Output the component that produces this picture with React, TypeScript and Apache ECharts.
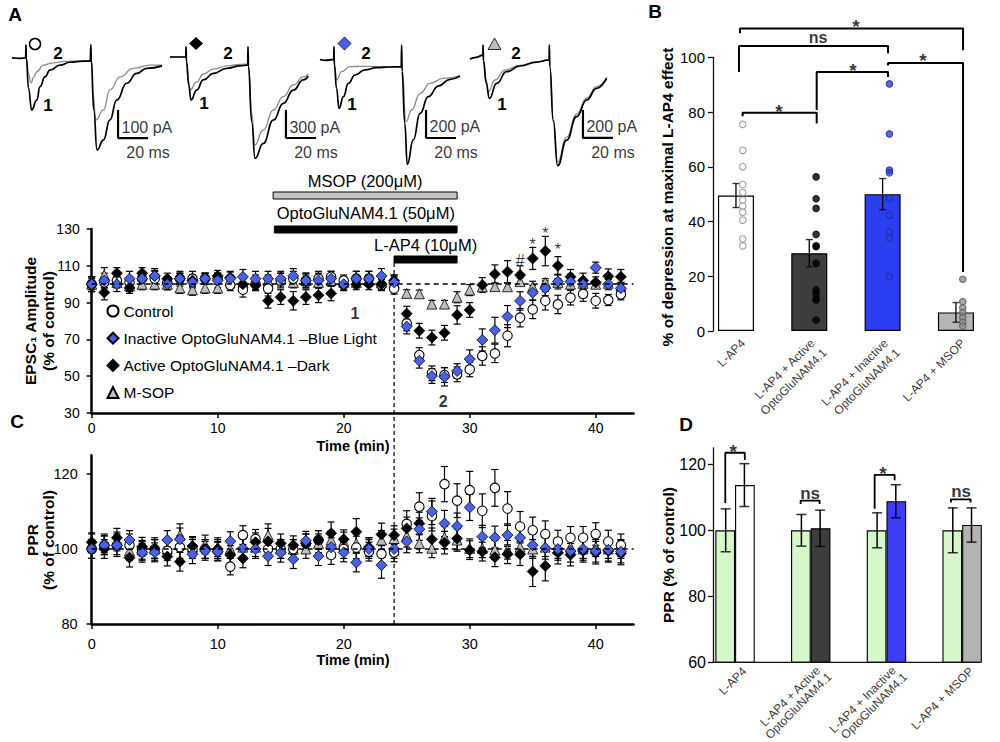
import React, { useEffect, useRef } from "react";
import * as echarts from "echarts";

const FONT = "'Liberation Sans', Arial, Helvetica, sans-serif";
const fnt = (size: number, bold = false) => `${bold ? "bold " : ""}${size}px ${FONT}`;

// ================= DATA =================
// ---- Panel A traces: [time (ms), current (pA)] ----
const TRACE1_BLACK = [[0,8],[5,6],[9.1,8],[9.3,54],[9.6,5],[11,-100],[13.1,-179],[16.5,-143],[18.7,-95],[22,-60],[25.3,-36],[32,-18],[38.7,-8],[47.3,-4],[52.2,-4],[52.5,54],[52.9,0],[54.5,-180],[56.7,-321],[60.9,-286],[65.3,-214],[69.8,-143],[76.5,-83],[83.1,-48],[89.8,-30],[100,-21]];
const TRACE1_GRAY = [[0,8],[5,6],[9.1,8],[9.3,54],[9.6,5],[11,-50],[12.7,-82],[14.5,-60],[16.5,-42],[20.9,-18],[27.5,-10],[35,-5],[45,-4],[52.2,-4],[52.5,54],[52.9,0],[54,-120],[56,-214],[60.9,-179],[65.3,-107],[72,-60],[80.9,-30],[92,-18],[100,-18]];
const TRACE2_BLACK = [[0,0],[10.5,0],[10.7,110],[11,-50],[12.5,-300],[14,-461],[17.8,-354],[22.2,-246],[28.9,-175],[37.8,-121],[46.7,-96],[51.8,-86],[52,110],[52.3,-100],[54.5,-700],[56.7,-1086],[62.2,-925],[68.9,-675],[75.6,-496],[82.2,-354],[88.9,-246],[92.2,-204]];
const TRACE2_GRAY = [[0,0],[10.5,0],[10.7,110],[11,-50],[12.3,-250],[13.3,-354],[17.8,-268],[22.2,-182],[28.9,-129],[37.8,-96],[46.7,-80],[51.8,-75],[52,110],[52.3,-100],[54.5,-600],[56.5,-943],[62.2,-782],[68.9,-568],[75.6,-425],[82.2,-300],[88.9,-214],[92.2,-182]];
const TRACE3_BLACK = [[0,4],[4,-3],[9.1,4],[9.3,95],[9.6,-40],[11,-200],[12.7,-345],[15.6,-262],[18.9,-167],[23.3,-107],[30,-71],[37.8,-55],[46,-50],[54.2,-48],[54.4,107],[54.7,-80],[56.5,-450],[58.2,-745],[62.2,-571],[66.7,-381],[72.2,-262],[78.9,-186],[86.7,-138],[93.3,-114]];
const TRACE3_GRAY = [[0,4],[4,-3],[9.1,4],[9.3,95],[9.6,-30],[11.1,-143],[14.4,-83],[20,-48],[26.7,-45],[40,-47],[54.2,-48],[54.4,107],[54.7,-60],[57.3,-440],[61.1,-357],[66.7,-238],[73.3,-167],[82.2,-131],[93.3,-114]];
const TRACE4_BLACK = [[0,-7],[4,5],[8.6,21],[8.7,93],[9,-20],[10.8,-180],[12.9,-288],[17.8,-181],[24.4,-98],[33.3,-57],[44.4,-29],[52.8,-14],[52.9,93],[53.2,-60],[55.5,-450],[58.4,-769],[64.4,-586],[71.1,-419],[77.8,-300],[84.4,-217],[91.1,-145]];
const TRACE4_GRAY = [[0,-7],[4,5],[8.6,21],[8.7,93],[9,-20],[10.6,-150],[12.2,-241],[16.7,-157],[23.3,-86],[33.3,-52],[44.4,-27],[52.8,-14],[52.9,93],[53.2,-60],[55.5,-430],[58.4,-743],[64.4,-565],[71.1,-400],[77.8,-286],[84.4,-205],[91.1,-138]];
const TRACES_BLACK = [TRACE1_BLACK, TRACE2_BLACK, TRACE3_BLACK, TRACE4_BLACK];
const TRACES_GRAY = [TRACE1_GRAY, TRACE2_GRAY, TRACE3_GRAY, TRACE4_GRAY];
const SCALEBAR_T = [70.7, 77.3, 70.7, 75.3];
const SCALEBAR_TOP = [-179, -568, -357, -371];
const SCALEBAR_PA = [100, 300, 200, 200];
const SCALEBAR_MS = 20;
const SCALEBAR_LABELS = ["100 pA", "300 pA", "200 pA", "200 pA"];

// ---- Panels A & C time course ----
const MINUTES = [0,1,2,3,4,5,6,7,8,9,10,11,12,13,14,15,16,17,18,19,20,21,22,23,24,25,26,27,28,29,30,31,32,33,34,35,36,37,38,39,40,41,42];
const CTRL_EPSC = [100,101,102,101,103,103,101,103,103,103,103,99.5,97,100,97.6,102,103,102,103,104,102,103,103,99.5,97.6,78.7,61.5,51.6,50.6,51,53.7,61,62.4,72,81.8,86.3,91,89,92.7,94.7,91,91.4,94.5];
const CTRL_EPSC_ERR = [4,3,3,3,3,4,3,3,4,3,3,3,4,3,4,4,4,4,4,3,3,4,4,3,3,4,4,4,4,4,4,5,5,6,5,5,5,5,4,4,4,3,3];
const BLUE_EPSC = [100,102,100,103,103,104.5,100,103,101,103,102,103,104,103,103,103,104.5,102,102,103,100,103,103,104.5,101,77,58.4,50.1,49.7,52.8,59.3,69.7,75,82.4,90.9,95.4,97.8,101.4,101.4,100,109,100,97.8];
const BLUE_EPSC_ERR = [4,4,4,4,4,4,3,4,3,3,4,4,4,4,4,4,4,4,4,4,3,4,4,4,4,4,4,4,5,4,5,6,7,6,5,4,4,4,4,3,3,3,3];
const BLACK_EPSC = [100,95.5,106,98,106,104.5,103,103,102,103,104.5,103.6,100,99.5,91,93,91,93,94,95,99.5,100,100,100,102,84,74.7,71,73.6,83.3,86,99.6,105.5,106.8,105,114,118,110,104,102,101,104.3,104];
const BLACK_EPSC_ERR = [4,4,3,3,3,3,3,3,3,3,3,3,3,3,4,4,5,4,4,4,3,3,3,3,3,4,4,4,4,5,4,4,5,6,5,6,8,5,4,4,3,4,4];
const TRI_EPSC = [100,105,101,99,100,100,100,98,97,98,98,102,101,102,102,103,101,102,101,102,101,101,102,101,101,95,94.8,89.2,89.2,92.9,96.8,98.6,98.7,98.6,101.4,98.6,101,101,100,100.5,100,100.5,99];
const TRI_EPSC_ERR = [3,4,3,3,3,3,3,3,3,3,3,3,3,3,3,3,3,3,3,3,3,3,3,3,3,2,2,2,2,3,3,2,2,2,2,3,2,2,2,2,2,2,2];

const CTRL_PPR = [100,101,101,101,99.5,100,99.5,100.5,100,100,99.5,95.3,103.7,102.7,100,100,100,101.5,102.4,98.4,100,100.4,99.3,98.7,99.1,106.7,111.3,108.8,117.3,112.9,115.7,110.2,116.3,110.8,106,105,104,102,103,103,104,102,101];
const CTRL_PPR_ERR = [2.5,2.5,3,3,2.5,3,2.5,3,2.5,2.5,2.5,2.2,2.5,2.5,2.5,2.5,2.5,2.5,2.5,2.5,2.5,3,2.5,2.5,2.5,3.5,3.7,4,4.7,4.5,5,4.5,4.9,4.5,4,3.5,3.5,3,3,3,3,3,3];
const BLUE_PPR = [100,101,101,102.4,99,99.1,102.4,102.6,98.6,99.5,99.3,102.1,100.2,100,98.1,99,97.3,102.2,98.1,100.5,99.1,96.4,100,95.7,100,102,105.3,110,106.8,106.1,111.1,103.3,103.1,103.7,103,101,100.3,100,99.5,100,99.5,99.8,99.3];
const BLUE_PPR_ERR = [2.5,2.5,2.5,2.5,2.5,2.5,2.5,3,2.5,2.5,2.5,2.5,2.5,2.5,2.5,2.5,2.5,2.5,2.5,2.5,2.5,2.5,2.5,3.5,2.5,3,3,3.5,3.5,3.5,3.5,3,3,3,3,3,3,3,3,3,3,3,3];
const BLACK_PPR = [101.8,100,103,97.7,100.6,100,98,96.6,100.8,100,100,98.4,97.5,101.8,102,101.5,101,101.5,102.4,104.2,102.6,104.6,100.5,103.9,103.7,105.5,106.8,102.6,101.7,102.8,99.7,99.3,97.8,98.6,98.6,94,95.5,99,98.5,99.5,99,99.5,98.8];
const BLACK_PPR_ERR = [2.5,2.5,2.5,2.5,2.5,2.5,2.5,2.5,2.5,2.5,2.5,2.5,2.5,2.5,3.5,2.5,2.5,2.5,2.5,3,2.5,3.5,2.5,3,2.5,3,3,3,3,3,2.5,2.5,2.5,2.5,3,4,4,3,3,3,3,3,3];
const TRI_PPR = [101.5,101.5,102,99.5,99.8,100,100,103.7,100.5,101.2,100.5,100,100.5,100.5,103.7,100,100,100,101.5,102.4,102,101.5,100.5,102.4,102.8,103.5,101.5,100.2,103.1,102.4,100.2,100.2,99.8,99.8,100.5,100,100.5,100,100.5,100,100.5,100,100];
const TRI_PPR_ERR = [2.5,2.5,2.5,2.5,2.5,2.5,2.5,3,2.5,2.5,2.5,2.5,2.5,2.5,3,2.5,2.5,2.5,2.5,2.5,2.5,2.5,2.5,2.5,2.5,3,2.5,2.5,3,3,2.5,2.5,2.5,2.5,2.5,2.5,2.5,2.5,2.5,2.5,2.5,2.5,2.5];

const DRUG_LABELS = ["MSOP (200μM)", "OptoGluNAM4.1 (50μM)", "L-AP4 (10μM)"];
const DRUG_START = [14.4, 14.5, 24];
const DRUG_END = [29, 29, 29];
const LAP4_ONSET = 24;
const A_MARKS = [[34, 115.3, "#"], [35, 124, "*"], [36, 129.5, "*"], [37, 121.3, "*"]];
const A_TIMEPOINTS = [[20.9, 84.3, "1"], [27.9, 36, "2"]];

// ---- Panel B ----
const B_CATS = ["L-AP4", "L-AP4 + Active\nOptoGluNAM4.1", "L-AP4 + Inactive\nOptoGluNAM4.1", "L-AP4 + MSOP"];
const B_MEANS = [49.5, 28.4, 50.0, 6.8];
const B_ERR = [4.4, 5.0, 5.7, 3.6];
const B_LAP4 = [75.5, 66, 60, 53.5, 50.6, 47.8, 45.6, 43.4, 40.5, 33.6, 31.1];
const B_ACTIVE = [56.3, 48.3, 44.8, 35.3, 31.1, 30.8, 24.7, 15, 13.8, 11.9, 11.3, 4];
const B_INACTIVE = [90.3, 72, 58.8, 57.8, 48.4, 42.3, 36.2, 34, 19.8];
const B_MSOP = [18.9, 10.7, 8.5, 6.7, 4.9, 3.2, 1.8];
const B_BRACKETS = [
  [[0.091, 78.5], [0.091, 79.7], [1.101, 79.7], [1.101, 75.8]],
  [[1.101, 80.7], [1.101, 94.6], [2.074, 94.6], [2.074, 92.8]],
  [[0.041, 94.6], [0.041, 104.1], [2.074, 104.1], [2.074, 101.5]],
  [[2.074, 97.0], [2.074, 97.9], [3.097, 97.9], [3.097, 21.6]],
  [[0.055, 108.8], [0.055, 110.5], [3.097, 110.5], [3.097, 102.6]],
];
const B_STARS = [[0.587, 82.1, "*"], [1.596, 97.1, "*"], [2.551, 100.7, "*"], [1.637, 112.9, "*"]];
const B_NS = [[1.119, 107.3, "ns"]];

// ---- Panel D ----
const D_CATS = B_CATS;
const D_BASE = [100, 100, 100, 100];
const D_BASE_ERR = [6.5, 4.8, 5.3, 6.8];
const D_TREAT = [113.7, 100.6, 108.8, 101.6];
const D_TREAT_ERR = [6.5, 5.5, 5.0, 5.2];
const D_BRACKETS = [
  [[-0.129, 108.3], [-0.129, 123.5], [0.129, 123.5], [0.129, 121.3]],
  [[0.866, 108], [0.866, 109], [1.117, 109], [1.117, 108]],
  [[1.844, 106.5], [1.844, 116.8], [2.108, 116.8], [2.108, 115.2]],
  [[2.852, 108.4], [2.852, 109.4], [3.112, 109.4], [3.112, 108.4]],
];
const D_STARS = [[-0.025, 125.3, "*"], [1.954, 118.8, "*"]];
const D_NS = [[0.991, 111.3, "ns"], [2.986, 111.7, "ns"]];

// ================= LAYOUT / STYLE =================
const TRACE_LAYOUT = [
  { left: 12, base: 60, k: 0.28 },
  { left: 170, base: 57, k: 28 / 300 },
  { left: 320, base: 60, k: 0.14 },
  { left: 470, base: 58, k: 0.14 },
];
const TC = { left: 91.7, width: 541.8, max: 43 };
const DRUG_ROWS = [
  { barTop: 192, barH: 7, textY: 181, fill: "#c4c4c4" },
  { barTop: 226, barH: 7, textY: 213, fill: "#000" },
  { barTop: 256, barH: 7, textY: 245, fill: "#000" },
];
const BLUE_MARK = "#4660f0";
const B_COLORS = ["#ffffff", "#3d3d3d", "#2b3ff2", "#b5b5b5"];
const D_GREEN = "#d6f8c8";
const D_COLORS = ["#ffffff", "#3d3d3d", "#3d3df5", "#b3b3b3"];
// rotated category-label anchors: dx = [single, line1, line2] (category units), y = [single, line1, line2] (value units)
const B_LBL = { dx: [0.097, 0.045, 0.21], y: [-3.7, -3.7, -7.2] };
const D_LBL = { dx: [0.124, 0.097, 0.248], y: [57.9, 58.1, 56.2] };
const CAT_FONT = 12;

function errorRender(cap: number, lw: number) {
  return (params: any, api: any) => {
    const x = api.value(0);
    const lo = api.coord([x, api.value(1)]);
    const hi = api.coord([x, api.value(2)]);
    const st = { stroke: "#000", lineWidth: lw };
    return {
      type: "group",
      children: [
        { type: "line", shape: { x1: lo[0], y1: lo[1], x2: hi[0], y2: hi[1] }, style: st },
        { type: "line", shape: { x1: lo[0] - cap, y1: lo[1], x2: lo[0] + cap, y2: lo[1] }, style: st },
        { type: "line", shape: { x1: hi[0] - cap, y1: hi[1], x2: hi[0] + cap, y2: hi[1] }, style: st },
      ],
    };
  };
}

function errSeries(xi: number, yi: number, xs: number[], ys: number[], es: number[], cap: number, lw: number) {
  return {
    type: "custom", xAxisIndex: xi, yAxisIndex: yi, silent: true, z: 2, clip: false,
    data: xs.map((x, i) => [x, ys[i] - es[i], ys[i] + es[i]]),
    encode: { x: 0, y: [1, 2] },
    renderItem: errorRender(cap, lw),
  };
}

function errLines(xi: number, yi: number, xs: number[], ys: number[], es: number[], capW: number, lw: number) {
  const out: any[] = xs.map((x, i) => ({
    type: "line", xAxisIndex: xi, yAxisIndex: yi, data: [[x, ys[i] - es[i]], [x, ys[i] + es[i]]],
    symbol: "none", silent: true, clip: false, z: 11, lineStyle: { color: "#000", width: lw },
  }));
  out.push({
    type: "scatter", xAxisIndex: xi, yAxisIndex: yi, symbol: "rect", symbolSize: [capW, lw], silent: true, z: 11, clip: false,
    data: xs.flatMap((x, i) => [[x, ys[i] - es[i]], [x, ys[i] + es[i]]]),
    itemStyle: { color: "#000" },
  });
  return out;
}

function textSeries(xi: number, yi: number, data: any[], fontSize: number, bold: boolean, offsetY = 0) {
  return {
    type: "scatter", xAxisIndex: xi, yAxisIndex: yi, symbol: "circle", symbolSize: 1, silent: true, z: 13, clip: false,
    itemStyle: { color: "rgba(0,0,0,0)" },
    data,
    label: {
      show: true, position: "inside", formatter: (p: any) => p.value[2], color: "#000",
      fontSize, fontWeight: bold ? "bold" : "normal", fontFamily: FONT, offset: [0, offsetY],
    },
  };
}

// rotated category labels, one text per line
function catLabelSeries(xi: number, yi: number, cats: string[], L: { dx: number[]; y: number[] }, fontSize: number) {
  const data: any[] = [];
  cats.forEach((c, i) => {
    const lines = c.split("\n");
    if (lines.length === 1) data.push([i + L.dx[0], L.y[0], lines[0]]);
    else {
      data.push([i + L.dx[1], L.y[1], lines[0]]);
      data.push([i + L.dx[2], L.y[2], lines[1]]);
    }
  });
  return {
    type: "scatter", xAxisIndex: xi, yAxisIndex: yi, symbol: "circle", symbolSize: 1, silent: true, z: 13, clip: false,
    itemStyle: { color: "rgba(0,0,0,0)" },
    data,
    label: {
      show: true, position: "inside", rotate: 45, align: "right", verticalAlign: "middle",
      formatter: (p: any) => p.value[2], color: "#000", fontSize, fontFamily: FONT,
    },
  };
}

function bracketSeries(xi: number, yi: number, pts: number[][], lw: number) {
  return {
    type: "line", xAxisIndex: xi, yAxisIndex: yi, data: pts, symbol: "none", silent: true, clip: false, z: 12,
    lineStyle: { color: "#000", width: lw },
  };
}

function buildOption() {
  const grid: any[] = [];
  const xAxis: any[] = [];
  const yAxis: any[] = [];
  const series: any[] = [];
  const addG = (g: any) => (grid.push(g), grid.length - 1);
  const addX = (a: any) => (xAxis.push(a), xAxis.length - 1);
  const addY = (a: any) => (yAxis.push(a), yAxis.length - 1);

  // ---------- traces ----------
  TRACE_LAYOUT.forEach((L, i) => {
    const g = addG({ left: L.left, top: 30, width: 150, height: 150 });
    const xi = addX({ type: "value", gridIndex: g, min: 0, max: 100, show: false });
    const yi = addY({ type: "value", gridIndex: g, min: -(180 - L.base) / L.k, max: (L.base - 30) / L.k, show: false });
    series.push({
      type: "line", xAxisIndex: xi, yAxisIndex: yi, data: TRACES_GRAY[i], symbol: "none", smooth: 0.5,
      smoothMonotone: "x", lineStyle: { color: "#8a8a8a", width: 1.3 }, silent: true, z: 2,
    });
    series.push({
      type: "line", xAxisIndex: xi, yAxisIndex: yi, data: TRACES_BLACK[i], symbol: "none", smooth: 0.5,
      smoothMonotone: "x", lineStyle: { color: "#000", width: 1.7 }, silent: true, z: 3,
    });
    const t = SCALEBAR_T[i], top = SCALEBAR_TOP[i], bot = SCALEBAR_TOP[i] - SCALEBAR_PA[i];
    series.push({
      type: "line", xAxisIndex: xi, yAxisIndex: yi, data: [[t, top], [t, bot], [t + SCALEBAR_MS, bot]],
      symbol: "none", silent: true, lineStyle: { color: "#000", width: 2.2 }, z: 3,
    });
    series.push({
      type: "scatter", xAxisIndex: xi, yAxisIndex: yi, symbolSize: 1, silent: true, itemStyle: { color: "rgba(0,0,0,0)" },
      data: [[t, (top + bot) / 2, SCALEBAR_LABELS[i]]],
      label: { show: true, position: "right", distance: 3, offset: [0, 3], formatter: (p: any) => p.value[2], fontSize: 16, color: "#000", fontFamily: FONT },
    });
    series.push({
      type: "scatter", xAxisIndex: xi, yAxisIndex: yi, symbolSize: 1, silent: true, itemStyle: { color: "rgba(0,0,0,0)" },
      data: [[t + SCALEBAR_MS, bot, SCALEBAR_MS + " ms"]],
      label: { show: true, position: "bottom", distance: 6, formatter: (p: any) => p.value[2], fontSize: 16, color: "#000", fontFamily: FONT },
    });
  });

  const groups = [
    { name: "M-SOP", epsc: TRI_EPSC, epscErr: TRI_EPSC_ERR, ppr: TRI_PPR, pprErr: TRI_PPR_ERR, symbol: "triangle", size: 10, fill: "#bdbdbd", bw: 0.8 },
    { name: "Control", epsc: CTRL_EPSC, epscErr: CTRL_EPSC_ERR, ppr: CTRL_PPR, pprErr: CTRL_PPR_ERR, symbol: "circle", size: 9.5, fill: "#ffffff", bw: 1.1 },
    { name: "Active OptoGluNAM4.1 –Dark", epsc: BLACK_EPSC, epscErr: BLACK_EPSC_ERR, ppr: BLACK_PPR, pprErr: BLACK_PPR_ERR, symbol: "diamond", size: 11, fill: "#000000", bw: 0.8 },
    { name: "Inactive OptoGluNAM4.1 –Blue Light", epsc: BLUE_EPSC, epscErr: BLUE_EPSC_ERR, ppr: BLUE_PPR, pprErr: BLUE_PPR_ERR, symbol: "diamond", size: 11, fill: BLUE_MARK, bw: 0.8 },
  ];

  const tcAxisLine = { show: true, lineStyle: { color: "#000", width: 2.5 } };
  const tcTick = { show: true, length: 5, lineStyle: { color: "#000", width: 1.5 } };

  // ---------- Panel A time course ----------
  const gA = addG({ left: TC.left, top: 229, width: TC.width, height: 184 });
  const xA = addX({
    type: "value", gridIndex: gA, min: 0, max: TC.max, axisLine: tcAxisLine,
    axisTick: { ...tcTick, customValues: [0, 10, 20, 30, 40] },
    axisLabel: { customValues: [0, 10, 20, 30, 40], fontSize: 14, color: "#000", margin: 8, fontFamily: FONT },
    splitLine: { show: false },
  });
  const yA = addY({
    type: "value", gridIndex: gA, min: 30, max: 130, interval: 20, axisLine: tcAxisLine, axisTick: tcTick,
    axisLabel: { fontSize: 14, color: "#000", margin: 12, fontFamily: FONT }, splitLine: { show: false },
  });

  // ---------- Panel C ----------
  const gC = addG({ left: TC.left, top: 455.25, width: TC.width, height: 168.75 });
  const xC = addX({
    type: "value", gridIndex: gC, min: 0, max: TC.max, axisLine: tcAxisLine,
    axisTick: { ...tcTick, customValues: [0, 10, 20, 30, 40] },
    axisLabel: { customValues: [0, 10, 20, 30, 40], fontSize: 14.5, color: "#000", margin: 12, fontFamily: FONT },
    splitLine: { show: false },
  });
  const yC = addY({
    type: "value", gridIndex: gC, min: 80, max: 125, interval: 20, axisLine: tcAxisLine,
    axisTick: { ...tcTick, customValues: [80, 100, 120] },
    axisLabel: { customValues: [80, 100, 120], fontSize: 14.5, color: "#000", margin: 14, fontFamily: FONT },
    splitLine: { show: false },
  });

  const dashed100 = {
    silent: true, symbol: "none", label: { show: false },
    lineStyle: { type: [5, 4], color: "#000", width: 1.5 }, data: [{ yAxis: 100 }],
  };

  [[xA, yA, "epsc", "epscErr"], [xC, yC, "ppr", "pprErr"]].forEach(([xi, yi, k, ke]: any) => {
    groups.forEach((gr: any) => series.push(errSeries(xi, yi, MINUTES, gr[k], gr[ke], 3.5, 1.2)));
    groups.forEach((gr: any, gi) => {
      series.push({
        type: "scatter", name: gr.name, xAxisIndex: xi, yAxisIndex: yi, symbol: gr.symbol, symbolSize: gr.size,
        data: MINUTES.map((m, i) => [m, gr[k][i]]), z: 3 + gi * 0.1, clip: false,
        itemStyle: { color: gr.fill, borderColor: "#000", borderWidth: gr.bw, opacity: 1 },
        markLine: gi === 0 ? dashed100 : undefined,
      });
    });
  });
  series.push(textSeries(xA, yA, A_MARKS, 16, false, 4));
  series.push(textSeries(xA, yA, A_TIMEPOINTS, 16, true, 0));

  // ---------- overlay: drug bars and L-AP4 onset line ----------
  const gO = addG({ left: TC.left, top: 0, width: TC.width, height: 742 });
  const xO = addX({ type: "value", gridIndex: gO, min: 0, max: TC.max, show: false });
  const yO = addY({ type: "value", gridIndex: gO, min: 0, max: 742, inverse: true, show: false });
  series.push({
    type: "line", xAxisIndex: xO, yAxisIndex: yO, data: [[LAP4_ONSET, 263], [LAP4_ONSET, 624]], symbol: "none",
    silent: true, z: 1, lineStyle: { color: "#000", width: 1.2, type: [4, 3] },
  });
  series.push({
    type: "custom", xAxisIndex: xO, yAxisIndex: yO, silent: true, z: 4, clip: false,
    data: DRUG_START.map((s, i) => [s, DRUG_END[i], i]),
    encode: { x: [0, 1] },
    renderItem: (params: any, api: any) => {
      const i = api.value(2);
      const row = DRUG_ROWS[i];
      const p1 = api.coord([api.value(0), row.barTop]);
      const p2 = api.coord([api.value(1), row.barTop + row.barH]);
      const ty = api.coord([api.value(0), row.textY])[1];
      return {
        type: "group",
        children: [
          { type: "rect", shape: { x: p1[0], y: p1[1], width: p2[0] - p1[0], height: p2[1] - p1[1] }, style: { fill: row.fill, stroke: "#000", lineWidth: 1 } },
          { type: "text", x: (p1[0] + p2[0]) / 2, y: ty, style: { text: DRUG_LABELS[i], font: fnt(16.5), fill: "#000", align: "center", verticalAlign: "middle", textAlign: "center", textVerticalAlign: "middle" } },
        ],
      };
    },
  });

  // ---------- Panel B ----------
  const gB = addG({ left: 699.3, top: 57.3, width: 293.3, height: 273.7 });
  const xB = addX({
    type: "category", gridIndex: gB, data: B_CATS, axisLine: { show: false }, axisTick: { show: false },
    splitLine: { show: false }, axisLabel: { show: false },
  });
  const xB2 = addX({ type: "value", gridIndex: gB, min: -0.5, max: 3.5, show: false });
  const yB = addY({
    type: "value", gridIndex: gB, min: 0, max: 100, interval: 20, offset: -13.7,
    axisLine: { show: true, onZero: false, lineStyle: { color: "#111", width: 1.3 } },
    axisTick: { show: true, length: 5, lineStyle: { color: "#111", width: 1.3 } },
    axisLabel: { fontSize: 15, color: "#000", margin: 8, fontFamily: FONT }, splitLine: { show: false },
  });
  series.push({
    type: "bar", xAxisIndex: xB, yAxisIndex: yB, barWidth: 36, silent: true, z: 10,
    data: B_MEANS.map((v, i) => ({ value: v, itemStyle: { color: B_COLORS[i] } })),
    itemStyle: { borderColor: "#000", borderWidth: 1.2 },
  });
  series.push(...errLines(xB2, yB, [0, 1, 2, 3], B_MEANS, B_ERR, 7, 1.3));
  const DOT_OFF = 0.093;
  const bDots = [
    { vals: B_LAP4, fill: "#ffffff", stroke: "#8a8a8a" },
    { vals: B_ACTIVE, fill: "#000000", stroke: "#000000" },
    { vals: B_INACTIVE, fill: "#2b3ff2", stroke: "#1b2a95" },
    { vals: B_MSOP, fill: "#8f8f8f", stroke: "#5a5a5a" },
  ];
  bDots.forEach((d, i) => {
    series.push({
      type: "scatter", xAxisIndex: xB2, yAxisIndex: yB, symbol: "circle", symbolSize: 6.5, silent: true, z: 12,
      data: d.vals.map((v) => [i + DOT_OFF, v]),
      itemStyle: { color: d.fill, borderColor: d.stroke, borderWidth: 1.1 },
    });
  });
  B_BRACKETS.forEach((b) => series.push(bracketSeries(xB2, yB, b, 2)));
  series.push(textSeries(xB2, yB, B_STARS, 19, true, 5));
  series.push(textSeries(xB2, yB, B_NS, 16, true, 0));
  series.push(catLabelSeries(xB2, yB, B_CATS, B_LBL, CAT_FONT));

  // ---------- Panel D ----------
  const gD = addG({ left: 697.2, top: 447.8, width: 318.8, height: 214.5 });
  const xD = addX({
    type: "category", gridIndex: gD, data: D_CATS, axisLine: { show: false }, axisTick: { show: false },
    splitLine: { show: false }, axisLabel: { show: false },
  });
  const xD2 = addX({ type: "value", gridIndex: gD, min: -0.5, max: 3.5, show: false });
  const yD = addY({
    type: "value", gridIndex: gD, min: 60, max: 125, interval: 20, offset: -15.8,
    axisLine: { show: true, onZero: false, lineStyle: { color: "#111", width: 1.3 } },
    axisTick: { show: true, length: 5, lineStyle: { color: "#111", width: 1.3 }, customValues: [60, 80, 100, 120] },
    axisLabel: { customValues: [60, 80, 100, 120], fontSize: 16, color: "#000", margin: 7, fontFamily: FONT },
    splitLine: { show: false },
  });
  series.push({
    type: "bar", xAxisIndex: xD, yAxisIndex: yD, barWidth: 19.7, barGap: "0%", silent: true, z: 10,
    data: D_BASE, itemStyle: { color: D_GREEN, borderColor: "#000", borderWidth: 1.1 },
  });
  series.push({
    type: "bar", xAxisIndex: xD, yAxisIndex: yD, barWidth: 19.7, barGap: "0%", silent: true, z: 10,
    data: D_TREAT.map((v, i) => ({ value: v, itemStyle: { color: D_COLORS[i] } })),
    itemStyle: { borderColor: "#000", borderWidth: 1.1 },
  });
  const half = 19.7 / 79.7 / 2;
  series.push(...errLines(xD2, yD, [0 - half, 1 - half, 2 - half, 3 - half], D_BASE, D_BASE_ERR, 10, 1.5));
  series.push(...errLines(xD2, yD, [0 + half, 1 + half, 2 + half, 3 + half], D_TREAT, D_TREAT_ERR, 10, 1.5));
  series.push({
    type: "line", xAxisIndex: xD2, yAxisIndex: yD, data: [[-0.301, 60], [3.237, 60]], symbol: "none", silent: true,
    clip: false, z: 11, lineStyle: { color: "#111", width: 1.2 },
  });
  D_BRACKETS.forEach((b) => series.push(bracketSeries(xD2, yD, b, 1.8)));
  series.push(textSeries(xD2, yD, D_STARS, 19, true, 5));
  series.push(textSeries(xD2, yD, D_NS, 17, true, 0));
  series.push(catLabelSeries(xD2, yD, D_CATS, D_LBL, CAT_FONT));

  // ---------- graphics (labels, trace markers) ----------
  const T = (text: string, x: number, y: number, size: number, bold = false, rot = 0) => ({
    type: "text", x, y, rotation: rot, silent: true,
    style: { text, font: fnt(size, bold), fill: "#000", align: "center", verticalAlign: "middle", textAlign: "center", textVerticalAlign: "middle" },
  });
  const R = Math.PI / 2;
  const graphic: any[] = [
    T("A", 15, 14, 19, true), T("B", 655, 11, 19, true), T("C", 17, 421, 19, true), T("D", 686, 424, 19, true),
    T("EPSC₁ Amplitude", 30, 321, 15.5, true, R), T("(% of control)", 48, 321, 15.5, true, R),
    T("PPR", 32, 540, 15.5, true, R), T("(% of control)", 48, 540, 15.5, true, R),
    T("% of depression at maximal L-AP4 effect", 667, 197, 15.5, true, R),
    T("PPR (% of control)", 668, 555, 15.5, true, R),
    T("Time (min)", 353, 446, 14.5, true), T("Time (min)", 353, 660, 14.5, true),
    T("2", 58, 53, 17, true), T("1", 48, 105, 17, true),
    T("2", 228, 53, 17, true), T("1", 204, 103, 17, true),
    T("2", 366, 53, 17, true), T("1", 352, 104, 17, true),
    T("2", 516, 53, 17, true), T("1", 502, 104, 17, true),
    { type: "circle", shape: { cx: 35, cy: 44, r: 5.5 }, style: { fill: "#fff", stroke: "#000", lineWidth: 1.5 } },
    { type: "polygon", shape: { points: [[196, 37], [203, 43.5], [196, 50], [189, 43.5]] }, style: { fill: "#000" } },
    { type: "polygon", shape: { points: [[344.5, 37], [351, 43.5], [344.5, 50], [338, 43.5]] }, style: { fill: BLUE_MARK, stroke: "#000", lineWidth: 0.8 } },
    { type: "polygon", shape: { points: [[494.5, 38], [501, 49.5], [488, 49.5]] }, style: { fill: "#bdbdbd", stroke: "#000", lineWidth: 0.8 } },
  ];

  return {
    animation: false,
    backgroundColor: "#ffffff",
    textStyle: { fontFamily: FONT },
    grid, xAxis, yAxis, series, graphic,
    legend: {
      data: ["Control", "Inactive OptoGluNAM4.1 –Blue Light", "Active OptoGluNAM4.1 –Dark", "M-SOP"],
      orient: "vertical", left: 106.5, top: 303, itemWidth: 11, itemHeight: 11, itemGap: 11.2, padding: 0,
      selectedMode: false,
      textStyle: { fontSize: 15.5, lineHeight: 16, color: "#000", fontFamily: FONT },
    },
  };
}

export default function App() {
  const ref = useRef<HTMLDivElement>(null);
  useEffect(() => {
    if (!ref.current) return;
    const chart = echarts.init(ref.current, null, { renderer: "svg" });
    chart.setOption(buildOption() as any);
    return () => chart.dispose();
  }, []);
  return (
    <div
      ref={ref}
      style={{ position: "fixed", left: 0, top: 0, width: 1000, height: 742, background: "#fff" }}
    />
  );
}
